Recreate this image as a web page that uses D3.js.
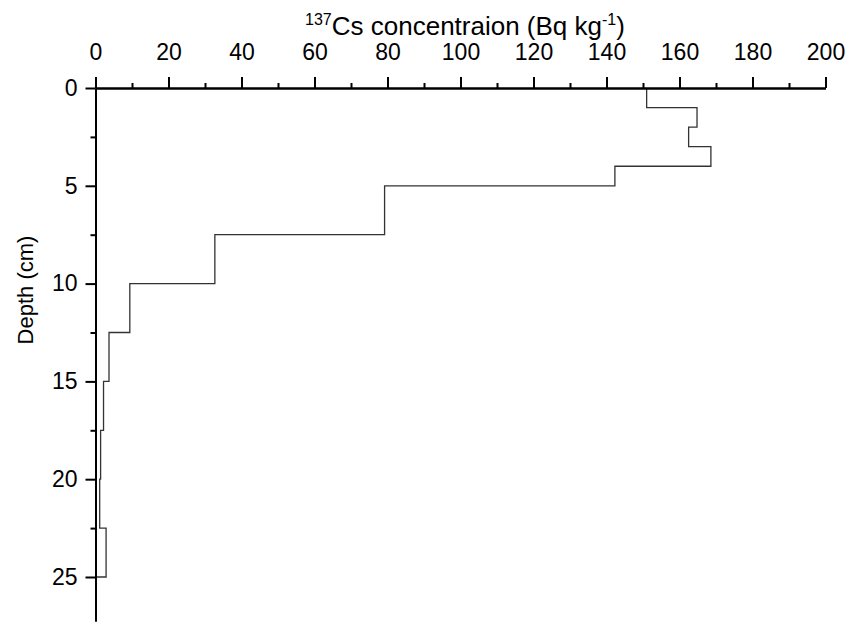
<!DOCTYPE html>
<html lang="en">
<head>
<meta charset="UTF-8">
<title>137Cs depth profile</title>
<style>
    body { margin: 0; background: #fff; }
    svg { display: block; font-family: "Liberation Sans", Arial, sans-serif; }
    .axis path, .axis line { stroke: #000; stroke-width: 2; }
    .axis text { font-size: 23px; fill: #000; }
</style>
</head>
<body>
<svg id="chart" width="846" height="623"></svg>
<script src="https://d3js.org/d3.v7.min.js"></script>
<script>
    // depth layers (cm) and 137Cs activity (Bq/kg)
    var depthTop = [0, 1, 2, 3, 4, 5, 7.5, 10, 12.5, 15, 17.5, 20, 22.5];
    var depthBottom = [1, 2, 3, 4, 5, 7.5, 10, 12.5, 15, 17.5, 20, 22.5, 25];
    var activity = [151, 164.8, 162.5, 168.6, 142.3, 79.2, 32.7, 9.4, 3.7, 2.2, 1.4, 1.15, 2.9];

    var xMajor = [0, 20, 40, 60, 80, 100, 120, 140, 160, 180, 200];
    var xMinor = [10, 30, 50, 70, 90, 110, 130, 150, 170, 190];
    var yMajor = [0, 5, 10, 15, 20, 25];
    var yMinor = [2.5, 7.5, 12.5, 17.5, 22.5];

    var svg = d3.select("#chart");

    var x = d3.scaleLinear().domain([0, 200]).range([95.5, 825.5]);
    var y = d3.scaleLinear().domain([0, 27.25]).range([88, 621]);

    // step profile
    var pts = [];
    activity.forEach(function(a, i) {
        pts.push([a, depthTop[i]]);
        pts.push([a, depthBottom[i]]);
    });
    pts.push([0, depthBottom[depthBottom.length - 1]]);

    var line = d3.line()
        .x(function(d) { return x(d[0]); })
        .y(function(d) { return y(d[1]); });

    svg.append("path")
        .datum(pts)
        .attr("fill", "none")
        .attr("stroke", "#333")
        .attr("stroke-width", 1.3)
        .attr("d", line);

    // minor ticks
    svg.append("g")
        .attr("class", "axis")
        .attr("transform", "translate(0,88)")
        .call(d3.axisTop(x).tickValues(xMinor).tickSize(5).tickSizeOuter(0).tickFormat(""));
    svg.append("g")
        .attr("class", "axis")
        .attr("transform", "translate(95.5,0)")
        .call(d3.axisLeft(y).tickValues(yMinor).tickSize(5).tickSizeOuter(0).tickFormat(""));

    // major ticks
    svg.append("g")
        .attr("class", "axis")
        .attr("transform", "translate(0,88)")
        .call(d3.axisTop(x).tickValues(xMajor).tickSize(11).tickSizeOuter(0).tickPadding(17));
    svg.append("g")
        .attr("class", "axis")
        .attr("transform", "translate(95.5,0)")
        .call(d3.axisLeft(y).tickValues(yMajor).tickSize(10).tickSizeOuter(0).tickPadding(8));

    // x title
    var title = svg.append("text")
        .attr("x", 465)
        .attr("y", 35)
        .attr("text-anchor", "middle")
        .style("font-size", "26px");
    title.append("tspan").attr("dy", "-10").style("font-size", "16px").text("137");
    title.append("tspan").attr("dy", "10").text("Cs concentraion (Bq kg");
    title.append("tspan").attr("dy", "-10").style("font-size", "16px").text("-1");
    title.append("tspan").attr("dy", "10").text(")");

    // y title
    svg.append("text")
        .attr("transform", "translate(33,290) rotate(-90)")
        .attr("text-anchor", "middle")
        .style("font-size", "22px")
        .text("Depth (cm)");
</script>
</body>
</html>
